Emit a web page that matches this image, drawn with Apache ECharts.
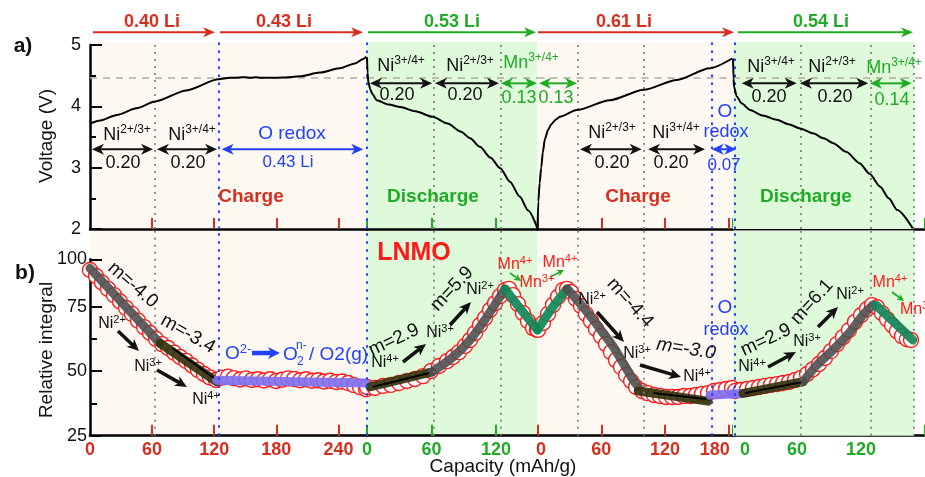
<!DOCTYPE html>
<html><head><meta charset="utf-8">
<script src="https://cdn.jsdelivr.net/npm/echarts@6/dist/echarts.min.js"></script>
<style>html,body{margin:0;padding:0;background:#fff}#c{width:925px;height:477px}</style>
</head><body><div id="c"></div>
<script>
// ---------------- DATA ----------------
// capacity window shown by each x-axis part (mAh/g): charge 1, discharge 1, charge 2, discharge 2
const segMax = [267.6, 158.6, 183.9, 180];
const segKind = ['charge', 'discharge', 'charge', 'discharge'];
const tickVals = [[60,120,180,240],[0,60,120],[0,60,120,180],[0,60,120,180]];
const labelVals = [[0,60,120,180,240],[0,60,120],[0,60,120,180],[0,60,120]];
const yTopTicks = [2,3,4,5];
const yBotLabels = ['25','50','75','100'];

// a) voltage profiles [capacity, V]
const volt1 = [[0,3.72],[10,3.77],[26,3.86],[45,3.97],[63,4.08],[93,4.26],[124,4.44],[135,4.465],[145,4.47],[150,4.475],[155,4.465],[160,4.475],[165,4.465],[176,4.465],[186,4.47],[203,4.49],[222,4.55],[241,4.62],[256,4.70],[264,4.77],[267,4.81]];
const volt2 = [[0,4.80],[0.5,4.55],[1.2,4.40],[3,4.28],[5,4.20],[9,4.10],[20,4.03],[31,3.99],[45,3.92],[61,3.83],[75,3.72],[87,3.59],[96,3.48],[105,3.34],[115,3.16],[124,2.99],[133,2.77],[142,2.53],[150,2.30],[158.5,2.01]];
const volt3 = [[0,2.0],[0.8,2.45],[2,2.75],[3.5,3.0],[5,3.25],[7,3.47],[10,3.62],[13,3.71],[17,3.78],[21,3.83],[37,3.94],[68,4.10],[100,4.27],[131,4.43],[162,4.62],[183,4.78]];
const volt4 = [[0,4.78],[0.5,4.45],[1,4.32],[3.5,4.16],[8,4.05],[16,3.94],[28,3.85],[41,3.78],[52,3.71],[63,3.64],[75,3.56],[85,3.48],[94,3.40],[106,3.26],[119,3.07],[128,2.90],[138,2.69],[146,2.50],[154,2.31],[168.5,2.01]];

// b) relative integral [capacity, value]
const ri1 = [[0,89.2],[5.8,86.9],[11.6,84.4],[17.4,81.9],[23.2,79.5],[29,77.0],[34.8,74.5],[40.6,72.2],[46.4,69.6],[52.2,67.1],[58,64.8],[63.8,62.5],[69.6,60.5],[75.4,59.0],[81.2,57.2],[87,55.5],[92.8,54.0],[98.6,52.2],[104.3,50.5],[110.1,48.9],[115.9,47.6],[121.7,46.6],[127.5,47.5],[133.3,47.9],[139,47.3],[145,46.8],[150.7,47.2],[156.5,46.6],[162.3,46.9],[168.1,46.4],[174,46.9],[179.7,46.2],[185.5,46.7],[191.3,47.2],[197.1,47.0],[203,46.5],[208.7,46.9],[214.5,46.3],[220.3,46.5],[226,46.0],[231.9,46.3],[237.7,45.8],[243.5,46.0],[249.3,45.4],[255,44.6],[260.9,43.8],[266.7,43.0]];
const ri2 = [[0,43.9],[7.4,43.5],[14.9,44.3],[22.3,44.7],[29.8,45.4],[37.2,46.2],[44.7,47.0],[52.1,48.1],[59.5,50.1],[67,52.0],[74.4,53.9],[80,55.5],[85.6,57.4],[91.2,59.8],[95.8,62.1],[100.5,64.8],[105.1,67.9],[109.8,70.6],[114.4,73.7],[119.1,76.4],[123.7,79.1],[128.4,81.5],[132.1,81.9],[135.8,79.5],[140.5,76.0],[145.1,72.5],[149.8,69.4],[154.4,66.7],[158.1,66.0]];
const ri3 = [[0.5,66.0],[5.2,68.7],[9.9,72.2],[14.6,75.7],[19.3,78.8],[24,81.5],[27.8,81.9],[31.5,80.7],[36.2,78.0],[40.9,75.3],[45.6,72.2],[50.3,69.5],[55,66.4],[59.7,63.6],[64.4,60.5],[69.1,57.4],[73.8,54.3],[78.5,51.6],[83.3,48.5],[88,46.2],[92.7,43.9],[98.3,42.3],[103.9,41.5],[109.6,40.8],[115.2,40.4],[120.9,40.0],[126.5,40.0],[132.2,40.0],[137.8,40.4],[143.5,40.4],[149.1,40.8],[154.7,41.2],[160.4,41.5],[166,42.3],[171.7,42.7],[177.3,43.1],[182.9,43.5]];
const ri4 = [[1.9,42.3],[7.5,42.7],[13.1,43.1],[18.7,43.5],[24.4,43.9],[30,44.3],[35.6,44.7],[41.2,45.0],[46.9,45.4],[52.5,45.8],[58.1,46.6],[63.7,47.4],[69.4,48.9],[75,50.8],[80.6,52.8],[86.2,55.1],[91.9,57.8],[97.5,60.5],[103.1,63.2],[108.7,65.9],[114.4,69.1],[120,71.7],[125.6,74.1],[130.3,75.6],[135,74.8],[139.7,72.5],[144.4,70.2],[149.1,67.8],[153.7,65.5],[158.4,63.6],[163.1,62.4],[166.9,62.1]];

// fitted trends drawn over the points: [segment, kind, points]
const fits = [
  [0,'grey',[[0,89.9],[67.6,60.8]]],
  [0,'olive',[[67.6,60.8],[122.4,45.9]]],
  [0,'black',[[80,58.9],[119,47.6]]],
  [0,'purple',[[122.4,46.5],[266.7,45.4]]],
  [1,'olive',[[2.8,43.9],[60.5,49.7]]],
  [1,'black',[[6,44.0],[57,49.2]]],
  [1,'grey',[[60.5,49.7],[80,55.5],[95.8,62.1],[111.6,71.1],[128.4,81.9]]],
  [1,'teal',[[128.4,81.9],[142.3,74.4],[158.6,66.0]]],
  [2,'teal',[[0,66.0],[13.6,74.4],[27.8,81.9]]],
  [2,'grey',[[27.8,81.9],[40,76.3],[52.5,69.9],[61.9,64.7],[71.3,59.5],[80.7,53.1],[90.1,46.6],[94.8,44.0]]],
  [2,'olive',[[94.8,42.3],[160.4,38.4]]],
  [2,'black',[[110,41.5],[158,39.2]]],
  [2,'purple',[[162.3,40.8],[183.9,41.2]]],
  [3,'purple',[[0,41.2],[9.4,41.4]]],
  [3,'olive',[[9.4,41.4],[65.6,45.9]]],
  [3,'black',[[12,41.6],[63,45.6]]],
  [3,'grey',[[65.6,45.9],[78.7,52.4],[93.7,58.2],[109.7,65.2],[121.9,71.8],[131.2,75.6]]],
  [3,'teal',[[134,75.6],[168.7,62.1]]]
];

// redox-region boundaries (capacity in each segment)
const vGrey = [[62.8],[62.3,124.7],[37.8,100.2],[63.5,129.1,169.7]];
const vBlue = [[124.6],[0],[163.9],[1.9]];
const hDashV = 4.457;

// Li-count arrows above panel a): [segment, start, end]
const liText = ['0.40 Li','0.43 Li','0.53 Li','0.61 Li','0.54 Li'];
const liSpan = [[0,2.9,120.8],[0,125.6,263.8],[1,0.9,157.2],[2,0.5,184.9],[3,4.7,168.7]];
// redox range arrows in panel a): [segment, start, end, voltage, colour key]
const rangeArrows = [
  [0,1.9,60.9,3.30,'k'],[0,64.7,122.7,3.30,'k'],[0,127.2,264,3.30,'b'],
  [1,2.8,60.5,4.375,'k'],[1,63.3,122.8,4.375,'k'],[1,124.7,158.1,4.375,'g'],
  [2,1.4,37.2,4.375,'g'],
  [2,40,98,3.30,'k'],[2,104,157.6,3.30,'k'],[2,163.9,187,3.30,'b'],
  [3,8.2,59.7,4.375,'k'],[3,62.8,126.8,4.375,'k'],[3,128.4,167.5,4.375,'g']
];

// ---------------- STYLE / LAYOUT ----------------
const FONT = "'Liberation Sans', Arial, Helvetica, sans-serif";
const RED = '#d62f1f', GREEN = '#1fab24', BLUE = '#2340ff', BEIGE = '#fdf9f2', MINT = '#dff9db';
const CKEY = {k:'#111', b:BLUE, g:GREEN};
const FITC = {grey:'rgba(80,80,80,0.9)', olive:'rgba(52,52,14,0.92)', purple:'rgba(128,112,240,0.92)', teal:'rgba(16,136,88,0.92)', black:'#000'};
const segLeft = [90, 367, 537.5, 733];
const segWidth = [277, 170.5, 195.5, 192];
const topPanel = {top:42, height:187};
const botPanel = {top:230.5, height:205.2};
const voltPx = 61.33, riPx = 2.58;

const chart = echarts.init(document.getElementById('c'), null, {renderer:'canvas'});

const grids = [], xAxes = [], yAxes = [], series = [];
for (let p = 0; p < 2; p++) {
  for (let s = 0; s < 4; s++) {
    const pan = p === 0 ? topPanel : botPanel;
    const col = segKind[s] === 'charge' ? RED : GREEN;
    grids.push({left: segLeft[s], width: segWidth[s], top: pan.top, height: pan.height,
      show: s !== 3, backgroundColor: segKind[s] === 'charge' ? BEIGE : MINT, borderWidth: 0,
      containLabel: false, outerBoundsMode: 'none'});
    const g = p*4 + s;
    xAxes.push({gridIndex: g, type: 'value', min: 0, max: segMax[s],
      axisLine: {show: true, onZero: false, lineStyle: {color: '#000', width: 2.5}},
      axisTick: {show: true, inside: true, length: 11, customValues: tickVals[s], lineStyle: {color: col, width: 2}},
      axisLabel: {show: p === 1, customValues: labelVals[s], margin: 5, color: col,
        fontSize: 18, fontWeight: 'bold', fontFamily: FONT,
        formatter: function (v) {
          if (s === 2 && v === 180) return '{r|180}';
          if (s === 2 && v === 0) return '{l|0}';
          if (s === 3 && v === 0) return '{L|0}';
          return '{n|' + v + '}';
        },
        rich: {
          n: {color: col, fontSize: 18, fontWeight: 'bold', fontFamily: FONT},
          r: {color: col, fontSize: 18, fontWeight: 'bold', fontFamily: FONT, padding: [0, 28, 0, 0]},
          l: {color: col, fontSize: 18, fontWeight: 'bold', fontFamily: FONT, padding: [0, 0, 0, 7]},
          L: {color: col, fontSize: 18, fontWeight: 'bold', fontFamily: FONT, padding: [0, 0, 0, 24]}
        }},
      splitLine: {show: false}});
    yAxes.push({gridIndex: g, type: 'value', show: false,
      min: p === 0 ? 2 : 25,
      max: p === 0 ? 2 + pan.height / voltPx : 25 + pan.height / riPx,
      splitLine: {show: false}});
  }
}
// axis-only grids for the two y axes
grids.push({left: 90, width: 835, top: 45, height: 184, show: false, containLabel: false, outerBoundsMode: 'none'});
grids.push({left: 90, width: 835, top: 259.3, height: 176.4, show: false, containLabel: false, outerBoundsMode: 'none'});
xAxes.push({gridIndex: 8, type: 'value', show: false, min: 0, max: 1});
xAxes.push({gridIndex: 9, type: 'value', show: false, min: 0, max: 1});
const botMax = 25 + 176.4 / riPx;
yAxes.push({gridIndex: 8, type: 'value', min: 2, max: 5, interval: 1, position: 'left',
  axisLine: {show: true, lineStyle: {color: '#000', width: 2.5}},
  axisTick: {show: true, inside: true, length: 12, customValues: yTopTicks, lineStyle: {color: '#000', width: 2}},
  minorTick: {show: true, splitNumber: 2, length: 6, lineStyle: {color: '#000', width: 2}},
  axisLabel: {customValues: yTopTicks, margin: 9, color: '#111', fontSize: 18, fontFamily: FONT},
  splitLine: {show: false}, minorSplitLine: {show: false}});
const botTickVals = [25, 50, 75, botMax];
yAxes.push({gridIndex: 9, type: 'value', min: 25, max: botMax, position: 'left',
  axisLine: {show: true, lineStyle: {color: '#000', width: 2.5}},
  axisTick: {show: true, inside: true, length: 12, customValues: botTickVals, lineStyle: {color: '#000', width: 2}},
  axisLabel: {customValues: botTickVals, margin: 3, color: '#111', fontSize: 18, fontFamily: FONT,
    formatter: function (v) { const i = botTickVals.indexOf(v); return i >= 0 ? yBotLabels[i] : ''; }},
  splitLine: {show: false}});
yAxes.push({gridIndex: 9, type: 'value', min: 25, max: botMax, position: 'left', offset: 0,
  axisLine: {show: false},
  axisTick: {show: true, inside: true, length: 7, customValues: [37.5, 62.5], lineStyle: {color: '#000', width: 2}},
  axisLabel: {show: false}, splitLine: {show: false}});

function vLineData(s, withH) {
  const d = [];
  vGrey[s].forEach(v => d.push({xAxis: v, lineStyle: {type: [2, 5], color: '#777', width: 1.6}}));
  vBlue[s].forEach(v => d.push({xAxis: v, lineStyle: {type: [2.5, 5.5], color: BLUE, width: 2}}));
  if (withH) d.push({yAxis: hDashV, lineStyle: {type: [7, 6], color: '#b3aa9d', width: 1.5}});
  return d;
}
const volts = [volt1, volt2, volt3, volt4];
const ris = [ri1, ri2, ri3, ri4];
for (let s = 0; s < 4; s++) {
  const mA = s === 3 ? {silent: true, itemStyle: {color: MINT}, data: [[{xAxis: 0}, {xAxis: vGrey[3][2]}]]} : undefined;
  series.push({type: 'line', xAxisIndex: s, yAxisIndex: s, data: volts[s], symbol: 'none',
    smooth: 0.25, smoothMonotone: 'x', lineStyle: {color: '#000', width: 2}, z: 5, silent: true,
    markLine: {silent: true, symbol: ['none', 'none'], label: {show: false}, data: vLineData(s, true)},
    markArea: mA});
  series.push({type: 'scatter', xAxisIndex: 4 + s, yAxisIndex: 4 + s, data: ris[s], symbol: 'circle', symbolSize: 15,
    itemStyle: {color: '#fff', borderColor: '#ff1a1a', borderWidth: 1.4, opacity: 1}, z: 2, silent: true,
    markLine: {silent: true, symbol: ['none', 'none'], label: {show: false}, data: vLineData(s, false)},
    markArea: mA});
}
fits.forEach(f => {
  const isB = f[1] === 'black';
  series.push({type: 'line', xAxisIndex: 4 + f[0], yAxisIndex: 4 + f[0], data: f[2], symbol: 'none',
    smooth: 0.3, lineStyle: {color: FITC[f[1]], width: isB ? 2 : 9, cap: 'round', join: 'round'},
    z: isB ? 4 : 3, silent: true});
});

chart.setOption({animation: false, backgroundColor: '#fff', grid: grids, xAxis: xAxes, yAxis: yAxes, series: series});

// ---------------- ANNOTATIONS ----------------
function P(g, x, y) { return chart.convertToPixel({xAxisIndex: g, yAxisIndex: g}, [x, y]); }
function arrow(x1, y1, x2, y2, color, lw, hl, hw, both) {
  const dx = x2 - x1, dy = y2 - y1, L = Math.hypot(dx, dy), ux = dx / L, uy = dy / L;
  const head = (tx, ty, a, b) => ({type: 'polygon', silent: true, z: 100,
    shape: {points: [[tx, ty], [tx - a*hl - b*hw/2, ty - b*hl + a*hw/2], [tx - a*hl*0.72, ty - b*hl*0.72], [tx - a*hl + b*hw/2, ty - b*hl - a*hw/2]]},
    style: {fill: color}});
  const els = [];
  const sx = both ? x1 + ux*hl*0.7 : x1, sy = both ? y1 + uy*hl*0.7 : y1;
  els.push({type: 'line', silent: true, z: 100, shape: {x1: sx, y1: sy, x2: x2 - ux*hl*0.7, y2: y2 - uy*hl*0.7}, style: {stroke: color, lineWidth: lw}});
  els.push(head(x2, y2, ux, uy));
  if (both) els.push(head(x1, y1, -ux, -uy));
  return els;
}
function T(x, y, text, o) {
  o = o || {};
  return {type: 'text', x: x, y: y, rotation: (o.rot || 0) * Math.PI / 180, silent: true, z: 120,
    style: {text: text, fill: o.color || '#111', align: o.align || 'center', verticalAlign: 'middle',
      font: (o.italic ? 'italic ' : '') + (o.bold ? 'bold ' : '') + (o.size || 18) + 'px ' + FONT}};
}
function C(x, y, base, sup, o) {
  o = o || {};
  const fs = o.size || 17, color = o.color || '#111';
  return {type: 'text', x: x, y: y, silent: true, z: 120,
    style: {text: '{b|' + base + '}{s|' + sup + '}', align: o.align || 'center', verticalAlign: 'middle',
      rich: {b: {fontSize: fs, fontFamily: FONT, fill: color, lineHeight: Math.round(fs*1.2)},
             s: {fontSize: Math.round(fs*0.66), fontFamily: FONT, fill: color, verticalAlign: 'top', lineHeight: Math.round(fs*0.8)}}}};
}
const els = [];
// panel labels and axis names
els.push(T(23, 46, 'a)', {bold: true, size: 21}));
els.push(T(25, 273, 'b)', {bold: true, size: 21}));
els.push(T(47, 136, 'Voltage (V)', {rot: 90, size: 19}));
els.push(T(47, 350, 'Relative integral', {rot: 90, size: 19}));
els.push(T(503, 467, 'Capacity (mAh/g)', {size: 19}));
// Li arrows above panel a
const liX = [152, 284, 452, 624, 821];
liSpan.forEach((sp, i) => {
  const col = segKind[sp[0]] === 'charge' ? RED : GREEN;
  const a = P(sp[0], sp[1], 5.21), b = P(sp[0], sp[2], 5.21);
  arrow(a[0], a[1], b[0], b[1], col, 2, 12, 10, false).forEach(e => els.push(e));
  els.push(T(liX[i], 22, liText[i], {bold: true, size: 18, color: col}));
});
// range arrows
rangeArrows.forEach(r => {
  const a = P(r[0], r[1], r[3]), b = P(r[0], r[2], r[3]);
  arrow(a[0], a[1], b[0], b[1], CKEY[r[4]], 2, 12, 11, true).forEach(e => els.push(e));
});
// panel a texts
els.push(C(127, 135, 'Ni', '2+/3+', {size: 18})); els.push(T(123, 163, '0.20', {size: 18}));
els.push(C(192, 135, 'Ni', '3+/4+', {size: 18})); els.push(T(188, 163, '0.20', {size: 18}));
els.push(T(292, 134, 'O redox', {size: 19, color: BLUE})); els.push(T(288, 162, '0.43 Li', {size: 17, color: BLUE}));
els.push(C(401, 66, 'Ni', '3+/4+', {size: 18})); els.push(T(397, 95, '0.20', {size: 18}));
els.push(C(470, 66, 'Ni', '2+/3+', {size: 18})); els.push(T(465, 95, '0.20', {size: 18}));
els.push(C(531, 63, 'Mn', '3+/4+', {size: 18, color: GREEN}));
els.push(T(519, 98, '0.13', {size: 18, color: GREEN})); els.push(T(556, 98, '0.13', {size: 18, color: GREEN}));
els.push(C(612, 133, 'Ni', '2+/3+', {size: 18})); els.push(T(612, 163, '0.20', {size: 18}));
els.push(C(676, 133, 'Ni', '3+/4+', {size: 18})); els.push(T(671, 163, '0.20', {size: 18}));
els.push(T(725, 112, 'O', {size: 19, color: BLUE})); els.push(T(726, 132, 'redox', {size: 18, color: BLUE}));
els.push(T(724, 165, '0.07', {size: 17, color: BLUE}));
els.push(C(771, 67, 'Ni', '3+/4+', {size: 18})); els.push(T(769, 97, '0.20', {size: 18}));
els.push(C(832, 67, 'Ni', '2+/3+', {size: 18})); els.push(T(835, 97, '0.20', {size: 18}));
els.push(C(894, 68, 'Mn', '3+/4+', {size: 18, color: GREEN})); els.push(T(892, 100, '0.14', {size: 18, color: GREEN}));
els.push(T(251, 197, 'Charge', {bold: true, size: 19, color: RED}));
els.push(T(433, 197, 'Discharge', {bold: true, size: 19, color: GREEN}));
els.push(T(638, 197, 'Charge', {bold: true, size: 19, color: RED}));
els.push(T(806, 197, 'Discharge', {bold: true, size: 19, color: GREEN}));
// panel b texts
const MNRED = '#ff1a1a';
els.push(T(414, 253, 'LNMO', {bold: true, size: 25, color: MNRED}));
els.push(T(133, 285, 'm=-4.0', {size: 19, rot: -41}));
els.push(T(188, 334, 'm=-3.4', {size: 19, rot: -30}));
els.push(C(112, 324, 'Ni', '2+', {size: 16}));
arrow(118, 331, 139, 351, '#111', 3.5, 12, 11, false).forEach(e => els.push(e));
els.push(C(148, 367, 'Ni', '3+', {size: 16}));
arrow(157, 370, 187, 387, '#111', 3.5, 12, 11, false).forEach(e => els.push(e));
els.push(C(206, 400, 'Ni', '4+', {size: 16}));
els.push(C(225, 354, 'O', '2-', {size: 19, color: BLUE, align: 'left'}));
arrow(252, 353, 280, 353, BLUE, 4.5, 12, 12, false).forEach(e => els.push(e));
els.push(T(283, 355, 'O', {size: 19, color: BLUE, align: 'left'}));
els.push(T(296, 346, 'n-', {size: 12, color: BLUE, align: 'left'}));
els.push(T(297, 362, '2', {size: 12, color: BLUE, align: 'left'}));
els.push(T(309, 355, '/ O2(g)', {size: 19, color: BLUE, align: 'left'}));
els.push(T(394, 340, 'm=2.9', {size: 19, rot: 25}));
els.push(C(385, 363, 'Ni', '4+', {size: 16}));
arrow(403, 362, 426, 344, '#111', 3.5, 12, 11, false).forEach(e => els.push(e));
els.push(C(440, 333, 'Ni', '3+', {size: 16}));
els.push(T(452, 289, 'm=5.9', {size: 19, rot: 47}));
arrow(450, 325, 471, 302, '#111', 3.5, 12, 11, false).forEach(e => els.push(e));
els.push(C(480, 290, 'Ni', '2+', {size: 16}));
els.push(C(515, 265, 'Mn', '4+', {size: 16, color: MNRED}));
arrow(510, 273, 521, 281, GREEN, 1.8, 7, 7, false).forEach(e => els.push(e));
els.push(C(537, 283, 'Mn', '3+', {size: 16, color: MNRED}));
els.push(C(560, 263, 'Mn', '4+', {size: 16, color: MNRED}));
arrow(550, 277, 564, 270, GREEN, 1.8, 7, 7, false).forEach(e => els.push(e));
els.push(C(592, 300, 'Ni', '2+', {size: 16}));
els.push(T(630, 303, 'm=-4.4', {size: 19, rot: -48}));
arrow(597, 312, 624, 342, '#111', 3.5, 12, 11, false).forEach(e => els.push(e));
els.push(C(637, 354, 'Ni', '3+', {size: 16}));
els.push(T(686, 349, 'm=-3.0', {size: 19, rot: -9, italic: true}));
arrow(640, 365, 681, 377, '#111', 3.5, 12, 11, false).forEach(e => els.push(e));
els.push(C(697, 377, 'Ni', '4+', {size: 16}));
els.push(T(725, 308, 'O', {size: 19, color: BLUE}));
els.push(T(726, 330, 'redox', {size: 18, color: BLUE}));
els.push(T(766, 340, 'm=2.9', {size: 19, rot: 25}));
els.push(T(812, 302, 'm=6.1', {size: 19, rot: 48}));
els.push(C(752, 367, 'Ni', '4+', {size: 16}));
arrow(768, 367, 796, 352, '#111', 3.5, 12, 11, false).forEach(e => els.push(e));
els.push(C(807, 342, 'Ni', '3+', {size: 16}));
arrow(818, 327, 838, 307, '#111', 3.5, 12, 11, false).forEach(e => els.push(e));
els.push(C(850, 295, 'Ni', '2+', {size: 16}));
els.push(C(890, 283, 'Mn', '4+', {size: 16, color: MNRED}));
arrow(892, 292, 904, 301, GREEN, 1.8, 7, 7, false).forEach(e => els.push(e));
els.push(C(900, 310, 'Mn', '3+', {size: 16, color: MNRED, align: 'left'}));

chart.setOption({graphic: {elements: els}});
</script></body></html>
